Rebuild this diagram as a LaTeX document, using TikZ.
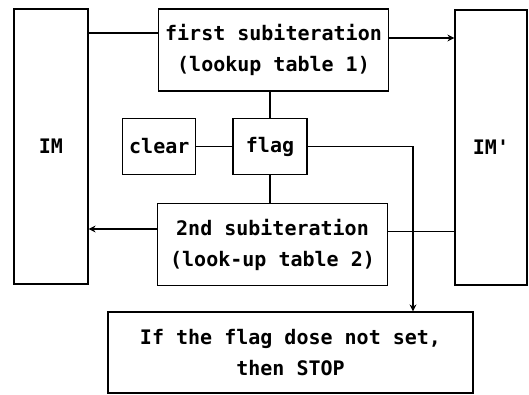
\documentclass[tikz,border=0pt]{standalone}
\usepackage{fontspec}
\usepackage{tikz}
\usetikzlibrary{arrows.meta, positioning, calc}
\newfontfamily\boxfont{DejaVu Sans Mono}
\tikzset{
    imgbox/.style={
        rectangle,
        draw=black,
        line width=1.2pt,
        align=center,
        minimum width=74pt,
        minimum height=275pt,
        font=\boxfont\bfseries\fontsize{20}{31}\selectfont
    },
    passbox/.style={
        rectangle,
        draw=black,
        line width=1.2pt,
        align=center,
        minimum width=230pt,
        minimum height=82pt,
        font=\boxfont\bfseries\fontsize{20}{31}\selectfont
    },
    smallbox/.style={
        rectangle,
        draw=black,
        line width=1.2pt,
        align=center,
        minimum width=74pt,
        minimum height=56pt,
        inner sep=2pt,
        font=\boxfont\bfseries\fontsize{20}{31}\selectfont
    },
    flowarrow/.style={-{Stealth[length=7pt, width=7pt]}, line width=1.2pt},
    plainline/.style={line width=1.2pt}
}

\begin{document}
\begin{tikzpicture}[x=1pt, y=-1pt]
            \useasboundingbox (0,0) rectangle (529,395);
            % the two image buffers
            \node[imgbox] (im) at (51,146.5) {IM};
            \node[imgbox, minimum width=72pt] (imp) at (491,147.5) {IM'};
            % the two passes
            \node[passbox] (first) at (273.5,50) {first subiteration\\(lookup table 1)};
            \node[passbox] (second) at (272.5,244.5) {2nd subiteration\\(look-up table 2)};
            % flag and its reset
            \node[smallbox] (flag) at (270,146.5) {flag};
            \node[smallbox, minimum width=73pt, left=36pt of flag] (clear) {clear};
            \node[passbox, minimum width=365pt, minimum height=81pt] (stop) at (290.5,352.5) {If the flag dose not set,\\then STOP};
            % connectors
            \coordinate (firstin) at ([yshift=17pt]first.west);
            \coordinate (firstout) at ([yshift=12pt]first.east);
            \coordinate (secondout) at ([yshift=15.5pt]second.west);
            \coordinate (secondin) at ([yshift=13pt]second.east);
            \draw[plainline] (im.east |- firstin) -- (firstin);
            \draw[flowarrow] (firstout) -- (imp.west |- firstout);
            \draw[plainline] (imp.west |- secondin) -- (secondin);
            \draw[flowarrow] (secondout) -- (im.east |- secondout);
            \draw[plainline] (first.south -| flag.north) -- (flag.north);
            \draw[plainline] (flag.south) -- (second.north -| flag.south);
            \draw[plainline] (clear.east) -- (flag.west);
            \draw[flowarrow] (flag.east) -| ([xshift=122.5pt]stop.north);
        \end{tikzpicture}
\end{document}
